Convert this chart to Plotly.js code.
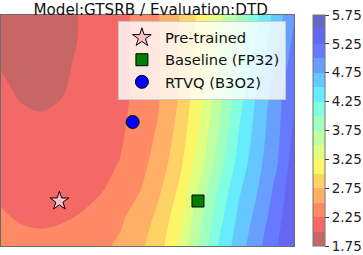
<!DOCTYPE html>
<html>
<head>
<meta charset="utf-8">
<script src="https://cdn.plot.ly/plotly-3.0.1.min.js"></script>
<style>html,body{margin:0;padding:0;background:#fff;}#chart{width:363px;height:255px;}</style>
</head>
<body>
<div id="chart"></div>
<script>
// ---- data ----
const gridX = [0, 20, 40, 60, 80, 100, 120, 140, 160, 180, 200, 220, 240, 260, 280, 296];
const gridY = [0, 16, 31, 56, 81, 106, 131, 156, 181, 206, 231];
const zRows = [
  [2.36,2.31,2.30,2.32,2.36,2.43,2.55,2.69,2.91,3.28,3.78,4.27,4.63,4.94,5.26,5.46],
  [2.32,2.27,2.255,2.27,2.31,2.38,2.49,2.65,2.86,3.21,3.71,4.21,4.59,4.89,5.22,5.48],
  [2.27,2.22,2.20,2.22,2.255,2.35,2.45,2.60,2.81,3.15,3.65,4.15,4.54,4.84,5.17,5.47],
  [2.21,2.15,2.13,2.15,2.19,2.225,2.35,2.49,2.72,3.04,3.53,4.04,4.46,4.76,5.10,5.43],
  [2.17,2.11,2.09,2.11,2.14,2.19,2.26,2.42,2.62,2.93,3.38,3.89,4.35,4.69,5.01,5.38],
  [2.12,2.07,2.05,2.07,2.10,2.15,2.22,2.37,2.56,2.86,3.28,3.79,4.27,4.64,4.97,5.31],
  [2.08,2.03,2.01,2.03,2.07,2.12,2.20,2.33,2.51,2.80,3.22,3.71,4.20,4.60,4.95,5.25],
  [2.04,1.97,1.94,1.98,2.05,2.11,2.19,2.31,2.49,2.76,3.16,3.63,4.11,4.53,4.90,5.23],
  [1.99,1.93,1.91,1.96,2.03,2.10,2.19,2.32,2.50,2.76,3.12,3.54,3.98,4.42,4.80,5.14],
  [1.94,1.90,1.89,1.94,2.01,2.09,2.18,2.32,2.50,2.75,3.08,3.47,3.87,4.31,4.71,5.05],
  [1.92,1.88,1.87,1.92,2.01,2.08,2.17,2.32,2.50,2.75,3.05,3.42,3.79,4.23,4.64,4.98]
];
const pointNames = ["Pre-trained", "Baseline (FP32)", "RTVQ (B3O2)"];
const pointX = [59, 199, 133];
const pointY = [45, 45, 124];
const levelStart = 2.0, levelEnd = 5.75, levelSize = 0.25;
const cbMin = 1.75, cbMax = 5.75;
const cbTicks = [1.75, 2.25, 2.75, 3.25, 3.75, 4.25, 4.75, 5.25, 5.75];
const titleText = "Model:GTSRB / Evaluation:DTD";

// ---- styles ----
const bandColors = [
  "rgb(200,102,102)","rgb(244,104,102)","rgb(255,139,102)","rgb(255,175,102)",
  "rgb(255,210,102)","rgb(253,246,102)","rgb(222,255,130)","rgb(191,255,161)",
  "rgb(161,255,191)","rgb(130,255,222)","rgb(102,236,253)","rgb(102,198,255)",
  "rgb(102,159,255)","rgb(102,121,255)","rgb(102,102,244)","rgb(102,102,200)"
];
const n = bandColors.length;
// contour fill: band k is sampled at s = k/n
const fillScale = [];
bandColors.forEach((c, k) => fillScale.push([k / n, c]));
fillScale.push([1, bandColors[n - 1]]);
// colorbar: hard steps
const stepScale = [];
bandColors.forEach((c, k) => { stepScale.push([k / n, c]); stepScale.push([(k + 1) / n, c]); });

const markerStyles = [
  {symbol: "star", size: 14, color: "#ffc0cb", line: {color: "#000", width: 1}},
  {symbol: "square", size: 12, color: "#008000", line: {color: "#000", width: 1}},
  {symbol: "circle", size: 13, color: "#0000ff", line: {color: "#000", width: 1}}
];

const traces = [{
  type: "contour",
  x: gridX, y: gridY, z: zRows,
  autocontour: false,
  contours: {start: levelStart, end: levelEnd, size: levelSize, coloring: "fill", showlines: false},
  line: {width: 0},
  colorscale: fillScale,
  showscale: false,
  showlegend: false,
  hoverinfo: "skip"
}, {
  // carrier for the colour bar only
  type: "scatter", mode: "markers",
  x: [gridX[0], gridX[0]], y: [gridY[0], gridY[0]],
  showlegend: false, hoverinfo: "skip",
  marker: {
    size: 1, opacity: 0,
    color: [cbMin, cbMax], cmin: cbMin, cmax: cbMax,
    colorscale: stepScale, showscale: true,
    colorbar: {
      x: 1.064, xanchor: "left", xpad: 0, ypad: 0,
      y: 0.5, yanchor: "middle", len: 1, lenmode: "fraction",
      thickness: 12, thicknessmode: "pixels",
      outlinewidth: 1, outlinecolor: "#777",
      tickmode: "array", tickvals: cbTicks, ticktext: cbTicks.map(v => v.toFixed(2)),
      ticks: "outside", ticklen: 4, tickcolor: "#333",
      tickfont: {family: "DejaVu Sans", size: 13.5, color: "#222"}
    }
  }
}];
pointNames.forEach((name, i) => {
  traces.push({
    type: "scatter", mode: "markers", name: name,
    x: [pointX[i]], y: [pointY[i]],
    marker: markerStyles[i], cliponaxis: false
  });
});

const layout = {
  width: 363, height: 255,
  margin: {l: 1, r: 66, t: 15, b: 9},
  paper_bgcolor: "#fff", plot_bgcolor: "#fff",
  title: {text: titleText, x: 0.415, xref: "container", xanchor: "center",
          y: 1 - 9.5/255, yref: "container", yanchor: "middle",
          font: {family: "DejaVu Sans", size: 15.2, color: "#111"}},
  xaxis: {range: [0, 296], showticklabels: false, ticks: "", showgrid: false, zeroline: false,
          showline: true, mirror: true, linecolor: "#6b6b6b", linewidth: 1},
  yaxis: {range: [0, 231], showticklabels: false, ticks: "", showgrid: false, zeroline: false,
          showline: true, mirror: true, linecolor: "#6b6b6b", linewidth: 1},
  legend: {x: 0.399, y: 0.976, xanchor: "left", yanchor: "top",
           bgcolor: "rgba(255,255,255,0.8)", bordercolor: "#cccccc", borderwidth: 1,
           font: {family: "DejaVu Sans", size: 14.7, color: "#111"}, itemwidth: 36},
  showlegend: true
};

Plotly.newPlot("chart", traces, layout, {staticPlot: true, displayModeBar: false});
</script>
</body>
</html>
